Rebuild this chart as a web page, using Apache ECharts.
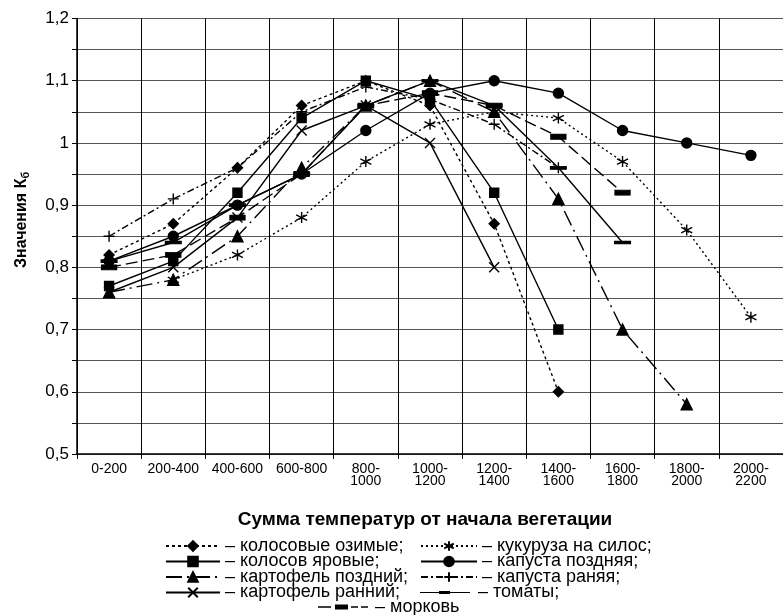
<!DOCTYPE html>
<html>
<head>
<meta charset="utf-8">
<script src="https://cdn.jsdelivr.net/npm/echarts@6/dist/echarts.min.js"></script>
<style>html,body{margin:0;padding:0;background:#fff}#c{width:783px;height:615px}</style>
</head>
<body>
<div id="c"></div>
<script>
const categories = ['0-200','200-400','400-600','600-800','800-\n1000','1000-\n1200','1200-\n1400','1400-\n1600','1600-\n1800','1800-\n2000','2000-\n2200'];
const yTicks = [0.5, 0.6, 0.7, 0.8, 0.9, 1.0, 1.1, 1.2];

const kolosOzimye   = [0.82, 0.87, 0.96, 1.06, 1.10, 1.06, 0.87, 0.60, null, null, null];
const kolosYarovye  = [0.77, 0.81, 0.92, 1.04, 1.10, 1.07, 0.92, 0.70, null, null, null];
const kartPozdniy   = [0.76, 0.78, 0.85, 0.96, 1.06, 1.10, 1.05, 0.91, 0.70, 0.58, null];
const kartRanniy    = [0.76, 0.80, 0.88, 1.02, 1.06, 1.00, 0.80, null, null, null, null];
const kukuruza      = [null, 0.78, 0.82, 0.88, 0.97, 1.03, 1.05, 1.04, 0.97, 0.86, 0.72];
const kapustaPozd   = [0.81, 0.85, 0.90, 0.95, 1.02, 1.08, 1.10, 1.08, 1.02, 1.00, 0.98];
const kapustaRan    = [0.85, 0.91, 0.96, 1.05, 1.09, 1.07, 1.03, 0.96, null, null, null];
const tomaty        = [0.81, 0.84, 0.90, 0.95, 1.06, 1.10, 1.06, 0.96, 0.84, null, null];
const morkov        = [0.80, 0.82, 0.88, 0.95, 1.06, 1.08, 1.06, 1.01, 0.92, null, null];

const seriesNames = ['колосовые озимые', 'колосов яровые', 'картофель поздний', 'картофель ранний',
  'кукуруза на силос', 'капуста поздняя', 'капуста раняя', 'томаты', 'морковь'];

const FONT = "'Liberation Sans', Arial, sans-serif";
const X_PATH = 'path://M0,0L10,10M10,0L0,10';
const AST_PATH = 'path://M5,0L5,10M0.7,2.5L9.3,7.5M0.7,7.5L9.3,2.5';
const PLUS_PATH = 'path://M5,0L5,10M0,5L10,5';
// legend icons (box 50 x 12): line with a small bar marker
const TOM_ICON = 'path://M0,5.4L50,5.4L50,6.6L0,6.6Z M19,4.5L30,4.5L30,7.5L19,7.5Z M0,0L0.01,0L0.01,0.01Z M0,12L0.01,12L0.01,11.99Z';
const MORK_ICON = 'path://M0,5.3L13,5.3L13,6.7L0,6.7Z M17,3.5L30,3.5L30,8.5L17,8.5Z M33,5.3L40,5.3L40,6.7L33,6.7Z M43,5.3L50,5.3L50,6.7L43,6.7Z M0,0L0.01,0L0.01,0.01Z M0,12L0.01,12L0.01,11.99Z';

function mk(name, data, symbol, size, dash) {
  return {
    name: name, type: 'line', data: data,
    symbol: symbol, symbolSize: size,
    lineStyle: {color: '#000', width: 1.4, type: dash},
    itemStyle: {color: '#000', borderColor: '#000', borderWidth: 1.4},
    emphasis: {disabled: true},
    animation: false
  };
}

const series = [
  mk(seriesNames[0], kolosOzimye, 'diamond', 10, [3, 3]),
  mk(seriesNames[1], kolosYarovye, 'rect', 9, 'solid'),
  mk(seriesNames[2], kartPozdniy, 'triangle', 11, [16, 5, 2, 5]),
  mk(seriesNames[3], kartRanniy, X_PATH, 10, 'solid'),
  mk(seriesNames[4], kukuruza, AST_PATH, 11, [2, 3]),
  mk(seriesNames[5], kapustaPozd, 'circle', 10, 'solid'),
  mk(seriesNames[6], kapustaRan, PLUS_PATH, 11, [7, 3, 2, 3]),
  mk(seriesNames[7], tomaty, 'rect', [14, 3], 'solid'),
  mk(seriesNames[8], morkov, 'rect', [14, 5], [12, 5])
];

function leg(i, left, top, suffix, fs, w, icon) {
  const item = {name: seriesNames[i]};
  if (icon) { item.icon = icon; item.itemStyle = {borderWidth: 0}; }
  return {
    left: left, top: top, orient: 'horizontal', itemWidth: w, itemHeight: 12, itemGap: 4,
    padding: 0, selectedMode: false,
    textStyle: {fontFamily: FONT, fontSize: fs, color: '#000', padding: [0, 0, 0, 0]},
    data: [item],
    formatter: function (n) { return '– ' + n + suffix; }
  };
}
const rowTop = [537, 552.5, 568, 583.5, 598];
const legends = [
  leg(0, 165, rowTop[0], ';', 18, 54), leg(1, 165, rowTop[1], ';', 18, 54),
  leg(2, 165, rowTop[2], ';', 18, 54), leg(3, 165, rowTop[3], ';', 18, 54),
  leg(4, 420, rowTop[0], ';', 18, 56), leg(5, 420, rowTop[1], ';', 18, 56),
  leg(6, 420, rowTop[2], ';', 18, 56), leg(7, 420, rowTop[3], ';', 18, 56, TOM_ICON),
  leg(8, 318, rowTop[4], '', 18, 54, MORK_ICON)
];

const chart = echarts.init(document.getElementById('c'), null, {renderer: 'canvas'});
chart.setOption({
  backgroundColor: '#fff',
  animation: false,
  grid: {left: 77, top: 18.5, width: 711, height: 435.5},
  xAxis: {
    type: 'category', data: categories, boundaryGap: true,
    axisLine: {lineStyle: {color: '#000', width: 1.5}},
    axisTick: {show: true, alignWithLabel: false, length: 5, lineStyle: {color: '#000'}},
    axisLabel: {fontFamily: FONT, fontSize: 14, color: '#000', lineHeight: 12, margin: 9, interval: 0},
    splitLine: {show: true, interval: 0, lineStyle: {color: '#000', width: 1}}
  },
  yAxis: {
    type: 'value', min: 0.5, max: 1.2, interval: 0.05,
    axisLine: {show: true, lineStyle: {color: '#000', width: 1.5}},
    axisTick: {show: true, length: 5, lineStyle: {color: '#000'}},
    axisLabel: {
      fontFamily: FONT, fontSize: 17, color: '#000', margin: 8,
      formatter: function (v) {
        const r = Math.round(v * 100);
        if (r % 10 !== 0) return '';
        const t = yTicks.find(function (x) { return Math.round(x * 100) === r; });
        return t === undefined ? '' : String(t).replace('.', ',');
      }
    },
    splitLine: {show: true, lineStyle: {color: '#555', width: 1.2}}
  },
  legend: legends,
  graphic: [
    {type: 'text', x: 425, y: 510, style: {
      text: 'Сумма температур от начала вегетации', fontFamily: FONT, fontSize: 19,
      fontWeight: 'bold', fill: '#000', align: 'center'}},
    {type: 'text', x: 12, y: 268, rotation: Math.PI / 2, style: {
      text: '{a|Значения К}{b|б}', fill: '#000',
      rich: {
        a: {fontFamily: FONT, fontSize: 16, fontWeight: 'bold', fill: '#000'},
        b: {fontFamily: FONT, fontSize: 11, fontWeight: 'bold', fill: '#000', verticalAlign: 'bottom', padding: [8, 0, 0, 0]}
      }}}
  ],
  series: series
});
</script>
</body>
</html>
